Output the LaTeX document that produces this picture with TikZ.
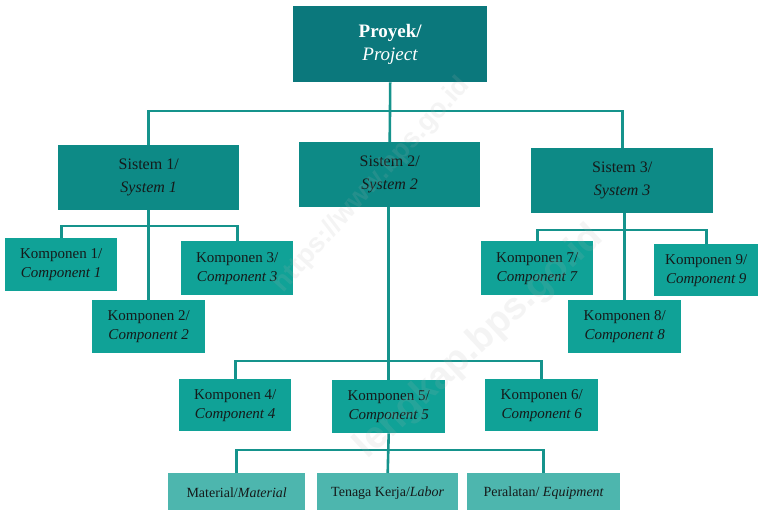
\documentclass[tikz,border=0pt]{standalone}
\usepackage{fontspec}
\setmainfont{Liberation Serif}
\newfontfamily\wmfont{Liberation Sans}
\definecolor{projc}{HTML}{0B787C}
\definecolor{sysc}{HTML}{0D8A86}
\definecolor{compc}{HTML}{10A297}
\definecolor{resc}{HTML}{4DB6AE}
\definecolor{linec}{HTML}{15938C}
\definecolor{txtc}{HTML}{151A1A}
\begin{document}
\begin{tikzpicture}[x=1pt,y=1pt,
  box/.style={anchor=north west,inner sep=0pt,align=center,text=txtc},
  projbox/.style={box,fill=projc,text=white,font=\fontsize{19}{23}\selectfont\bfseries},
  sysbox/.style={box,fill=sysc,font=\fontsize{16}{23}\selectfont},
  compbox/.style={box,fill=compc,font=\fontsize{15}{19}\selectfont},
  resbox/.style={box,fill=resc,font=\fontsize{14}{18}\selectfont},
  conn/.style={draw=linec,line width=2.6pt},
  wm/.style={text=gray!60,opacity=0.14}]
\useasboundingbox (0,0) rectangle (759,-510);
\fill[white] (0,0) rectangle (759,-510);
% bus coordinates
\coordinate (busP) at (390,-111);
\coordinate (bus1) at (149,-226);
\coordinate (bus3) at (624,-230);
\coordinate (bus2) at (389,-361);
\coordinate (bus5) at (388,-450);
% nodes
\node[projbox,minimum width=194,minimum height=76] (proj) at (293,-6) {Proyek/\\\textnormal{\itshape Project}};
\node[sysbox,minimum width=181,minimum height=65] (s1) at (58,-145) {Sistem 1/\\\textit{System 1}};
\node[sysbox,minimum width=181,minimum height=65] (s2) at (299,-142) {Sistem 2/\\\textit{System 2}};
\node[sysbox,minimum width=182,minimum height=65] (s3) at (531,-148) {Sistem 3/\\\textit{System 3}};
\node[compbox,minimum width=112,minimum height=53] (k1) at (5,-238) {Komponen 1/\\\textit{Component 1}};
\node[compbox,minimum width=113,minimum height=53] (k2) at (92,-300) {Komponen 2/\\\textit{Component 2}};
\node[compbox,minimum width=112,minimum height=54] (k3) at (181,-241) {Komponen 3/\\\textit{Component 3}};
\node[compbox,minimum width=112,minimum height=52] (k4) at (179,-379) {Komponen 4/\\\textit{Component 4}};
\node[compbox,minimum width=113,minimum height=53] (k5) at (332,-380) {Komponen 5/\\\textit{Component 5}};
\node[compbox,minimum width=113,minimum height=52] (k6) at (485,-379) {Komponen 6/\\\textit{Component 6}};
\node[compbox,minimum width=112,minimum height=54] (k7) at (481,-241) {Komponen 7/\\\textit{Component 7}};
\node[compbox,minimum width=113,minimum height=53] (k8) at (568,-300) {Komponen 8/\\\textit{Component 8}};
\node[compbox,minimum width=104,minimum height=52] (k9) at (654,-244) {Komponen 9/\\\textit{Component 9}};
\node[resbox,minimum width=137,minimum height=40] (m1) at (168,-473) {Material/\textit{Material}};
\node[resbox,minimum width=141,minimum height=40] (m2) at (317,-473) {Tenaga Kerja/\textit{Labor}};
\node[resbox,minimum width=153,minimum height=40] (m3) at (467,-473) {Peralatan/ \textit{Equipment}};
% connectors
\path[conn] (proj.south) -- (busP);
\path[conn] (s1.north) |- (busP) -| (s3.north);
\path[conn] (busP) -- (s2.north);
\path[conn] (s1.south) -- (k2.north);
\path[conn] (k1.north) |- (bus1) -| (k3.north);
\path[conn] (k8.north |- s3.south) -- (k8.north);
\path[conn] (k7.north) |- (bus3) -| (k9.north);
\path[conn] (s2.south -| k5.north) -- (k5.north);
\path[conn] (k4.north) |- (bus2) -| (k6.north);
\path[conn] (k5.south) -- (m2.north);
\path[conn] (m1.north) |- (bus5) -| (m3.north);
% watermarks
\node[wm,rotate=48,font=\wmfont\bfseries\fontsize{27}{27}\selectfont] (w1) at (372,-185) {https://www.bps.go.id};
\node[wm,rotate=43,font=\wmfont\bfseries\fontsize{38}{38}\selectfont,anchor=east] (w2) at (600,-230) {lengkap.bps.go.id};
\end{tikzpicture}
\end{document}
